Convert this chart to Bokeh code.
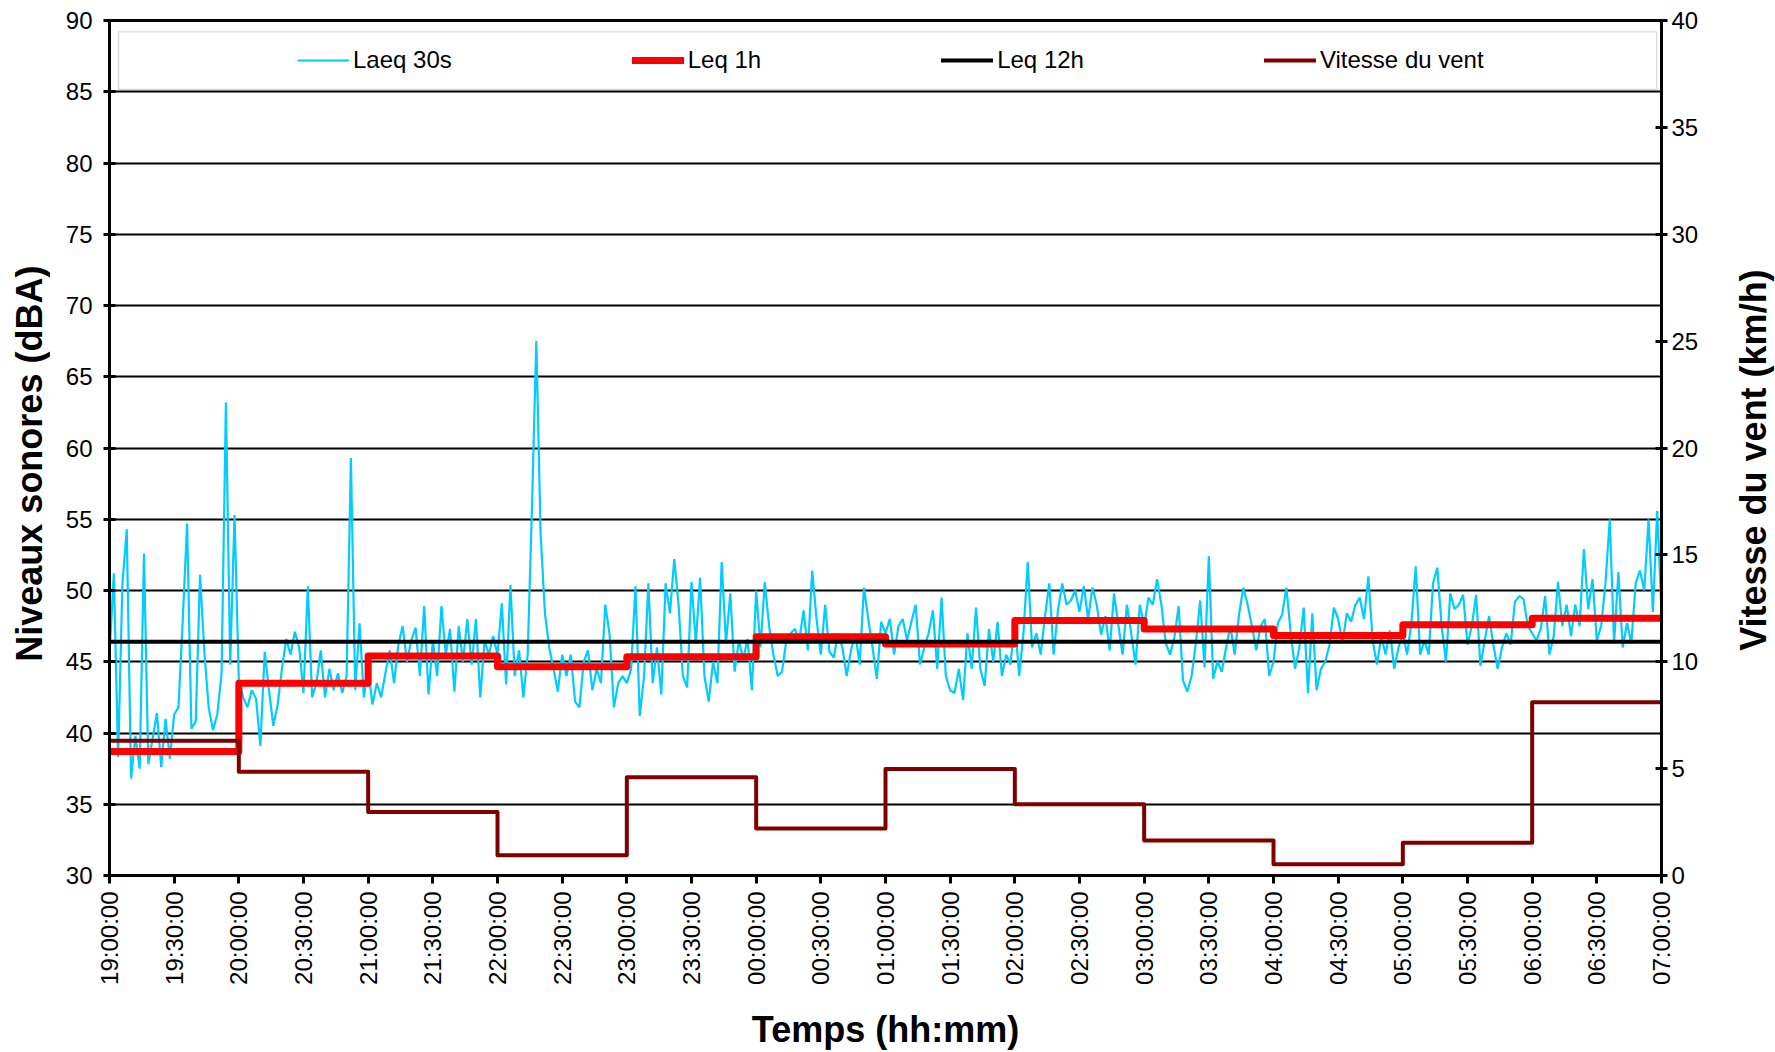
import math
from bokeh.plotting import figure
from bokeh.layouts import row
from bokeh.models import (Range1d, LinearAxis, FixedTicker, Legend, LegendItem,
                          BoxAnnotation)
from bokeh.core.properties import value
from bokeh.embed import file_html
from bokeh.resources import INLINE

# ---------------- data ----------------
time_labels = ["19:00:00", "19:30:00", "20:00:00", "20:30:00", "21:00:00", "21:30:00",
               "22:00:00", "22:30:00", "23:00:00", "23:30:00", "00:00:00", "00:30:00",
               "01:00:00", "01:30:00", "02:00:00", "02:30:00", "03:00:00", "03:30:00",
               "04:00:00", "04:30:00", "05:00:00", "05:30:00", "06:00:00", "06:30:00",
               "07:00:00"]

step_minutes = 2  # one reading every 2 minutes from 19:00

laeq_19h = [45.5, 51.2, 38.3, 50.5, 54.3, 36.8, 39.8, 37.5, 52.6, 37.8,
            39.6, 41.4, 37.6, 41.0, 38.2, 41.3, 41.8, 48.0, 54.7, 40.3,
            40.8, 51.1, 45.7, 41.8, 40.2, 41.3, 44.2, 63.2, 44.8, 55.3]
laeq_20h = [43.7, 42.5, 41.8, 43.0, 42.4, 39.1, 45.7, 43.0, 40.5, 42.0,
            44.5, 46.6, 45.5, 47.1, 46.0, 42.8, 50.3, 42.5, 43.5, 45.8,
            42.5, 44.5, 43.0, 44.2, 42.8, 44.0, 59.3, 43.0, 47.7, 42.5]
laeq_21h = [44.5, 42.0, 43.5, 42.5, 44.2, 45.8, 43.5, 46.2, 47.5, 45.0,
            46.5, 47.4, 44.0, 48.9, 42.7, 46.5, 44.0, 48.9, 45.5, 47.3,
            42.9, 47.5, 45.0, 48.0, 44.8, 48.0, 42.5, 46.5, 45.5, 46.8]
laeq_22h = [45.5, 49.1, 43.4, 50.4, 44.0, 45.8, 42.5, 45.5, 55.9, 67.5,
            54.0, 48.4, 46.0, 44.5, 42.9, 45.5, 44.0, 45.5, 42.2, 41.8,
            45.0, 45.8, 43.0, 44.5, 43.5, 49.0, 46.9, 41.8, 43.5, 44.0]
laeq_23h = [43.5, 44.5, 50.3, 41.2, 44.0, 50.5, 43.5, 46.0, 42.7, 50.5,
            48.4, 52.2, 49.0, 44.0, 43.2, 50.6, 46.3, 50.9, 44.0, 42.2,
            45.0, 43.5, 52.0, 46.3, 49.8, 44.3, 46.5, 45.2, 46.6, 43.0]
laeq_00h = [50.0, 46.0, 50.6, 47.5, 45.5, 44.0, 44.3, 46.5, 47.0, 47.3,
            46.5, 48.6, 45.8, 51.4, 48.0, 45.5, 49.0, 45.7, 45.3, 47.0,
            46.0, 44.0, 45.8, 47.0, 44.8, 50.2, 48.0, 46.0, 43.8, 47.8]
laeq_01h = [47.0, 48.0, 45.5, 47.5, 48.0, 46.5, 47.8, 49.0, 44.8, 46.0,
            47.0, 48.6, 44.5, 49.5, 44.0, 43.0, 42.8, 44.5, 42.3, 47.0,
            44.5, 48.8, 44.5, 43.3, 47.3, 45.0, 47.8, 44.0, 45.5, 44.8]
laeq_02h = [48.0, 44.0, 47.0, 52.0, 46.0, 47.0, 45.5, 48.2, 50.5, 45.5,
            48.6, 50.5, 49.0, 49.3, 50.0, 48.5, 50.3, 48.0, 50.2, 49.0,
            46.9, 48.2, 45.8, 49.8, 47.6, 45.5, 49.0, 47.0, 44.8, 49.0]
laeq_03h = [47.5, 49.5, 49.0, 50.8, 49.0, 46.3, 45.5, 46.7, 48.9, 43.7,
            42.9, 44.0, 46.3, 49.3, 44.6, 52.4, 43.8, 45.0, 44.3, 46.0,
            47.5, 45.5, 48.3, 50.2, 49.0, 47.5, 45.8, 47.5, 48.0, 44.0]
laeq_04h = [45.0, 47.7, 48.3, 50.2, 47.0, 44.5, 46.0, 48.8, 42.8, 48.4,
            43.0, 44.5, 45.0, 46.2, 48.8, 48.0, 46.3, 48.4, 47.8, 49.0,
            49.5, 48.0, 51.0, 46.5, 44.8, 46.8, 45.5, 47.2, 44.5, 46.0]
laeq_05h = [47.0, 45.5, 47.8, 51.7, 45.5, 46.5, 45.5, 50.5, 51.6, 47.5,
            45.0, 49.8, 48.7, 49.0, 49.7, 46.2, 47.5, 49.7, 44.7, 46.5,
            48.2, 46.2, 44.5, 46.0, 47.0, 46.2, 49.2, 49.6, 49.4, 47.5]
laeq_06h = [47.0, 46.5, 47.3, 49.6, 45.5, 46.8, 50.6, 47.5, 49.0, 46.8,
            49.0, 47.5, 52.9, 48.7, 50.8, 46.5, 47.5, 50.5, 55.0, 46.3,
            51.3, 46.0, 47.7, 46.3, 50.5, 51.4, 50.0, 55.0, 48.5, 55.6,
            48.5]

# Leq over each hour (dBA), 19h..06h
leq_1h = [38.7, 43.5, 45.4, 44.65, 45.35, 46.75, 46.25, 47.9, 47.3, 46.85, 47.6, 48.05]
# Leq over 12 h (dBA)
leq_12h = 46.4
# wind speed for each hour (km/h), 19h..06h
wind_speed = [6.3, 4.85, 2.97, 0.95, 4.6, 2.2, 4.98, 3.33, 1.64, 0.53, 1.53, 8.1]

# ---------------- build ----------------
laeq_30s = (laeq_19h + laeq_20h + laeq_21h + laeq_22h + laeq_23h + laeq_00h +
            laeq_01h + laeq_02h + laeq_03h + laeq_04h + laeq_05h + laeq_06h)
t = [i * step_minutes for i in range(len(laeq_30s))]
total_min = t[-1]
hour_x = [60 * i for i in range(len(leq_1h) + 1)]
leq_1h_y = leq_1h + [leq_1h[-1]]
wind_y = wind_speed + [wind_speed[-1]]

FONT = "Liberation Sans"
SIDE_W, H = 50, 1052
MAIN_W = 1775 - 2 * SIDE_W

p = figure(width=MAIN_W, height=H, output_backend="svg", toolbar_location=None,
           x_range=Range1d(0, total_min), y_range=Range1d(30, 90),
           min_border_left=59, min_border_right=64, min_border_top=20,
           min_border_bottom=177)
p.extra_y_ranges = {"wind": Range1d(0, 40)}
p.background_fill_color = "white"
p.border_fill_color = "white"
p.outline_line_color = "black"
p.outline_line_width = 3

p.xgrid.visible = False
p.ygrid.ticker = FixedTicker(ticks=list(range(30, 91, 5)))
p.ygrid.grid_line_color = "black"
p.ygrid.grid_line_width = 1.8

# x axis
xa = p.xaxis[0]
tick_pos = [30 * i for i in range(len(time_labels))]
xa.ticker = FixedTicker(ticks=tick_pos)
xa.major_label_overrides = {tp: lab for tp, lab in zip(tick_pos, time_labels)}
xa.major_label_orientation = math.pi / 2
xa.major_label_text_font = FONT
xa.major_label_text_font_size = "24px"
xa.major_label_text_color = "black"
xa.major_label_standoff = 8
xa.axis_line_width = 3
xa.axis_line_color = "black"
xa.major_tick_in = 0
xa.major_tick_out = 8
xa.major_tick_line_width = 3
xa.minor_tick_line_color = None
xa.axis_label = "Temps (hh:mm)"
xa.axis_label_text_font = FONT
xa.axis_label_text_font_size = "36px"
xa.axis_label_text_font_style = "bold"
xa.axis_label_text_color = "black"
xa.axis_label_standoff = 21

# left axis (its title is drawn in the left side panel)
ya = p.yaxis[0]
ya.ticker = FixedTicker(ticks=list(range(30, 91, 5)))
ya.major_label_text_font = FONT
ya.major_label_text_font_size = "24px"
ya.major_label_text_color = "black"
ya.major_label_standoff = 11
ya.axis_line_width = 3
ya.major_tick_in = 6
ya.major_tick_out = 6
ya.major_tick_line_width = 3
ya.minor_tick_line_color = None

# right axis (its title is drawn in the right side panel, reading bottom-to-top)
ra = LinearAxis(y_range_name="wind", ticker=FixedTicker(ticks=list(range(0, 41, 5))))
ra.major_label_text_font = FONT
ra.major_label_text_font_size = "24px"
ra.major_label_text_color = "black"
ra.major_label_standoff = 4
ra.axis_line_width = 3
ra.major_tick_in = 6
ra.major_tick_out = 6
ra.major_tick_line_width = 3
ra.minor_tick_line_color = None
p.add_layout(ra, "right")

# series
r_laeq = p.line(t, laeq_30s, line_color="#00CCFF", line_width=2.2)
r_leq1 = p.step(hour_x, leq_1h_y, mode="after", line_color="#FF0000", line_width=7,
                line_join="round", line_cap="round")
r_leq12 = p.line([t[0], t[-1]], [leq_12h, leq_12h], line_color="black", line_width=4,
                 line_cap="round")
r_wind = p.step(hour_x, wind_y, mode="after", y_range_name="wind", line_color="#800000",
                line_width=4, line_join="round", line_cap="round")

# legend frame
box = BoxAnnotation(left=4.2, right=717.8, bottom=85.16, top=89.2,
                    fill_color="white", fill_alpha=1.0,
                    line_color="#7f7f7f", line_width=1.3)
p.add_layout(box)

legend = Legend(items=[LegendItem(label="Laeq 30s", renderers=[r_laeq]),
                       LegendItem(label="Leq 1h", renderers=[r_leq1]),
                       LegendItem(label="Leq 12h", renderers=[r_leq12]),
                       LegendItem(label="Vitesse du vent", renderers=[r_wind])],
                orientation="horizontal", location=(188, 801),
                spacing=180, glyph_width=52, glyph_height=24, label_standoff=4,
                label_height=24, padding=0, margin=0,
                border_line_alpha=0, background_fill_alpha=0,
                label_text_font=FONT, label_text_font_size="24px",
                label_text_color="black")
p.add_layout(legend)


def title_panel(text, x_center, y_center):
    s = figure(width=SIDE_W, height=H, output_backend="svg", toolbar_location=None,
               x_range=Range1d(0, SIDE_W), y_range=p.y_range,
               x_axis_type=None, y_axis_type=None,
               min_border_left=0, min_border_right=0, min_border_top=20,
               min_border_bottom=177)
    s.outline_line_color = None
    s.background_fill_color = "white"
    s.border_fill_color = "white"
    s.grid.visible = False
    s.text(x=[x_center], y=[y_center], text=[text], angle=math.pi / 2,
           text_font=value(FONT), text_font_size="36px", text_font_style="bold",
           text_color="black", text_align="center", text_baseline="middle")
    return s


left_panel = title_panel("Niveaux sonores (dBA)", 29.0, 58.9)
right_panel = title_panel("Vitesse du vent (km/h)", 27.6, 59.15)

layout = row(left_panel, p, right_panel, spacing=0)
open("out.html", "w").write(file_html(layout, INLINE))
